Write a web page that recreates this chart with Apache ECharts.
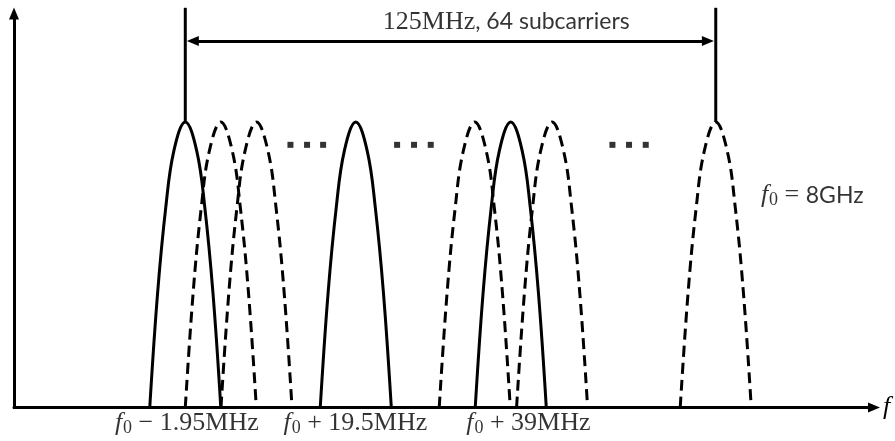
<!DOCTYPE html>
<html>
<head>
<meta charset="utf-8">
<script src="https://cdn.jsdelivr.net/npm/echarts@6/dist/echarts.min.js"></script>
<style>
html, body { margin: 0; padding: 0; background: #fff; }
#main { width: 895px; height: 441px; }
</style>
</head>
<body>
<div id="main"></div>
<script>
// subcarrier centres, MHz offset from f0 (read off the picture, not to scale)
var solidCenters = [-1.95, 19.5, 39];
var dashedCenters = [2.52, 7.01, 34.47, 44.2, 64.79];
var halfWidth = 4.47;
// hump outline: [offset in half widths, relative height]
var profile = [[-1, 0], [-0.78, 0.4], [-0.55, 0.7], [-0.32, 0.9], [0, 1],
               [0.32, 0.9], [0.55, 0.7], [0.78, 0.4], [1, 0]];
// "..." dots
var dotsX = [11.28, 13.37, 15.39, 24.70, 26.83, 28.93, 51.79, 53.88, 55.98];
var dotsY = 0.92;
// 125 MHz band: edge lines and arrow
var bandEdges = [-1.95, 64.79];
var edgeTop = 1.4;
var arrowEnds = [-1.0, 63.8];
var arrowY = 1.284;
// frequency labels under the axis
var bottomLabels = ['− 1.95MHz', '+ 19.5MHz', '+ 39MHz'];
var bottomLabelX = [-1.76, 19.45, 41.21];
var bottomLabelY = -0.055;

var chart = echarts.init(document.getElementById('main'));

var rich = {
    mi: { fontFamily: 'Liberation Serif', fontStyle: 'italic', fontSize: 26, color: '#000' },
    sub: { fontFamily: 'Liberation Serif', fontSize: 18, color: '#000', padding: [10, 0, 0, 1] },
    ser: { fontFamily: 'Liberation Serif', fontSize: 26, color: '#000' },
    sans: { fontFamily: 'Lato', fontSize: 23, color: '#000' }
};

function hump(c, dashed) {
    return {
        type: 'line',
        smooth: 0.4,
        symbol: 'none',
        silent: true,
        data: profile.map(function (p) { return [c + p[0] * halfWidth, p[1]]; }),
        lineStyle: { color: '#000', width: 3, type: dashed ? [11, 6] : 'solid' }
    };
}

var series = [];
solidCenters.forEach(function (c) { series.push(hump(c, false)); });
dashedCenters.forEach(function (c) { series.push(hump(c, true)); });

// band edge lines, from the peak up past the top of the plot
bandEdges.forEach(function (x) {
    series.push({
        type: 'line',
        symbol: 'none',
        clip: false,
        silent: true,
        data: [[x, 1], [x, edgeTop]],
        lineStyle: { color: '#000', width: 3 }
    });
});

series.push({
    type: 'scatter',
    symbol: 'rect',
    symbolSize: 6,
    silent: true,
    itemStyle: { color: '#000' },
    data: dotsX.map(function (x) { return [x, dotsY]; })
});

series.push({
    type: 'line',
    data: [],
    clip: false,
    silent: true,
    markLine: {
        silent: true,
        animation: false,
        symbol: ['triangle', 'triangle'],
        symbolSize: [10, 12],
        label: { show: false },
        lineStyle: { color: '#000', width: 3, type: 'solid' },
        data: [[{ coord: [arrowEnds[0], arrowY] }, { coord: [arrowEnds[1], arrowY] }]]
    }
});

var texts = [
    { value: [38.43, 1.35], label: { formatter: '{ser|125MHz}{sans|, 64 subcarriers}' } },
    { value: [76.93, 0.744], label: { formatter: '{mi|f}{sub|0}{ser| = }{sans|8GHz}' } }
];
bottomLabels.forEach(function (t, i) {
    texts.push({ value: [bottomLabelX[i], bottomLabelY], label: { formatter: '{mi|f}{sub|0}{ser| ' + t + '}' } });
});

series.push({
    type: 'scatter',
    symbolSize: 1,
    clip: false,
    silent: true,
    z: 10,
    itemStyle: { color: 'rgba(0,0,0,0)' },
    label: { show: true, position: 'inside', color: '#000', rich: rich },
    data: texts
});

var option = {
    animation: false,
    grid: { left: 14, right: 21, top: 13.5, bottom: 33.5, outerBoundsMode: 'none' },
    xAxis: {
        type: 'value',
        min: -23.5,
        max: 84.7,
        name: 'f',
        nameLocation: 'end',
        nameGap: 9,
        nameTextStyle: { fontFamily: 'Liberation Serif', fontStyle: 'italic', fontSize: 26, color: '#000' },
        axisLine: { show: true, onZero: false, symbol: ['none', 'triangle'], symbolSize: [10, 12],
                    lineStyle: { color: '#000', width: 3 } },
        axisTick: { show: false },
        axisLabel: { show: false },
        splitLine: { show: false }
    },
    yAxis: {
        type: 'value',
        min: 0,
        max: 1.38,
        axisLine: { show: true, onZero: false, symbol: ['none', 'triangle'], symbolSize: [10, 12],
                    lineStyle: { color: '#000', width: 3 } },
        axisTick: { show: false },
        axisLabel: { show: false },
        splitLine: { show: false }
    },
    series: series
};

chart.setOption(option);
</script>
</body>
</html>
